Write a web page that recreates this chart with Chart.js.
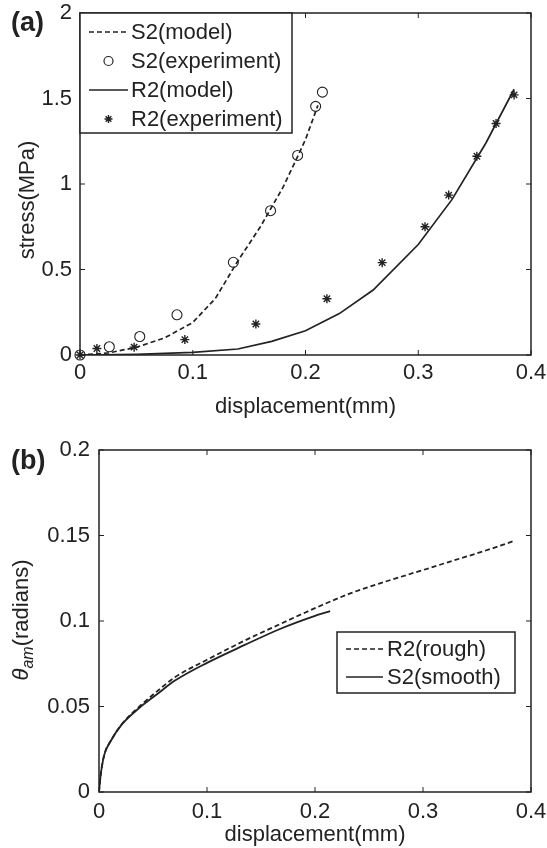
<!DOCTYPE html>
<html>
<head>
<meta charset="utf-8">
<script src="https://cdn.jsdelivr.net/npm/chart.js@4.4.1/dist/chart.umd.min.js"></script>
<style>
    body { margin: 0; background: #fff; width: 547px; height: 848px; position: relative; overflow: hidden; font-family: "Liberation Sans", Arial, sans-serif; color: #222; }
    .panel { position: absolute; left: 0; width: 547px; }
    #panelA { top: 0; height: 420px; }
    #panelB { top: 420px; height: 428px; }
    .tag { position: absolute; left: 11px; font-weight: bold; font-size: 27px; line-height: 1; }
    .ytitle { position: absolute; font-size: 22px; line-height: 1; white-space: nowrap; transform: translate(-50%, -50%) rotate(-90deg); }
    .ytitle sub { font-size: 16px; vertical-align: -5px; line-height: 0; }
</style>
</head>
<body>
<div class="panel" id="panelA"><canvas id="chartA" width="547" height="420"></canvas></div>
<div class="panel" id="panelB"><canvas id="chartB" width="547" height="428"></canvas></div>
<div class="tag" style="top:9px">(a)</div>
<div class="tag" style="top:447px">(b)</div>
<div class="ytitle" style="left:27px;top:200px">stress(MPa)</div>
<div class="ytitle" style="left:21px;top:620px"><i>θ</i><sub><i>am</i></sub>(radians)</div>

<script>
// ---- (a) stress vs displacement ----
const xTicksA = [0, 0.1, 0.2, 0.3, 0.4];
const yTicksA = [0, 0.5, 1, 1.5, 2];

const s2ModelX = [0, 0.025, 0.05, 0.075, 0.1, 0.12, 0.14, 0.16, 0.18, 0.193, 0.2, 0.211];
const s2ModelY = [0, 0.012, 0.045, 0.10, 0.19, 0.33, 0.55, 0.75, 0.98, 1.16, 1.26, 1.46];

const s2ExpX = [0, 0.026, 0.053, 0.086, 0.136, 0.169, 0.193, 0.209, 0.215];
const s2ExpY = [0, 0.048, 0.108, 0.235, 0.542, 0.844, 1.167, 1.454, 1.537];

const r2ModelX = [0, 0.05, 0.1, 0.14, 0.17, 0.2, 0.23, 0.26, 0.3, 0.33, 0.36, 0.385];
const r2ModelY = [0, 0.004, 0.015, 0.035, 0.08, 0.142, 0.242, 0.38, 0.646, 0.91, 1.24, 1.554];

const r2ExpX = [0, 0.015, 0.048, 0.093, 0.156, 0.219, 0.268, 0.306, 0.327, 0.352, 0.369, 0.385];
const r2ExpY = [0, 0.038, 0.046, 0.09, 0.181, 0.329, 0.54, 0.75, 0.935, 1.162, 1.354, 1.521];

// ---- (b) theta_am vs displacement ----
const xTicksB = [0, 0.1, 0.2, 0.3, 0.4];
const yTicksB = [0, 0.05, 0.1, 0.15, 0.2];

const roughX = [0, 0.0016, 0.005, 0.011, 0.021, 0.037, 0.054, 0.07, 0.1, 0.135, 0.167, 0.2, 0.232, 0.265, 0.3, 0.33, 0.362, 0.385];
const roughY = [0, 0.0102, 0.022, 0.030, 0.0396, 0.0498, 0.059, 0.067, 0.0773, 0.0886, 0.098, 0.1075, 0.116, 0.123, 0.1298, 0.1357, 0.142, 0.147];

const smoothX = [0, 0.0016, 0.005, 0.011, 0.021, 0.037, 0.054, 0.07, 0.1, 0.135, 0.167, 0.2, 0.214];
const smoothY = [0, 0.0102, 0.022, 0.030, 0.0394, 0.049, 0.0573, 0.065, 0.0755, 0.086, 0.0952, 0.103, 0.1058];

const INK = '#222';
const FONT = '"Liberation Sans", Arial, sans-serif';

function pts(xs, ys) {
    return xs.map((x, i) => ({ x: x, y: ys[i] }));
}

function drawStar(ctx, x, y, r) {
    ctx.beginPath();
    for (let k = 0; k < 4; k++) {
        const a = k * Math.PI / 4;
        ctx.moveTo(x - Math.cos(a) * r, y - Math.sin(a) * r);
        ctx.lineTo(x + Math.cos(a) * r, y + Math.sin(a) * r);
    }
    ctx.stroke();
}

// box round the plot with inward ticks on all four sides (matlab style)
const framePlugin = {
    id: 'frame',
    beforeDatasetsDraw(chart) {
        const { ctx, chartArea: a, scales } = chart;
        const tl = 5;
        ctx.save();
        ctx.strokeStyle = INK;
        ctx.lineWidth = 1.5;
        ctx.setLineDash([]);
        ctx.strokeRect(a.left, a.top, a.right - a.left, a.bottom - a.top);
        ctx.lineWidth = 1;
        ctx.beginPath();
        scales.x.ticks.forEach(t => {
            const px = scales.x.getPixelForValue(t.value);
            ctx.moveTo(px, a.bottom); ctx.lineTo(px, a.bottom - tl);
            ctx.moveTo(px, a.top); ctx.lineTo(px, a.top + tl);
        });
        scales.y.ticks.forEach(t => {
            const py = scales.y.getPixelForValue(t.value);
            ctx.moveTo(a.left, py); ctx.lineTo(a.left + tl, py);
            ctx.moveTo(a.right, py); ctx.lineTo(a.right - tl, py);
        });
        ctx.stroke();
        ctx.restore();
    }
};

// legend box drawn inside the plot area
const boxLegend = {
    id: 'boxLegend',
    afterDraw(chart, args, opts) {
        const { ctx } = chart;
        const bx = opts.left, by = opts.top;
        ctx.save();
        ctx.fillStyle = '#fff';
        ctx.fillRect(bx, by, opts.width, opts.height);
        ctx.strokeStyle = INK;
        ctx.lineWidth = 1.5;
        ctx.strokeRect(bx, by, opts.width, opts.height);
        chart.data.datasets.forEach((ds, i) => {
            const y = by + opts.firstRow + i * opts.rowGap;
            ctx.strokeStyle = INK;
            ctx.lineWidth = 1.6;
            if (ds.showLine) {
                ctx.setLineDash(ds.borderDash || []);
                ctx.beginPath();
                ctx.moveTo(bx + opts.lineFrom, y);
                ctx.lineTo(bx + opts.lineTo, y);
                ctx.stroke();
                ctx.setLineDash([]);
            } else if (ds.pointStyle === 'star') {
                ctx.lineWidth = 1.4;
                drawStar(ctx, bx + (opts.lineFrom + opts.lineTo) / 2, y, 4);
            } else {
                ctx.lineWidth = 1.2;
                ctx.beginPath();
                ctx.arc(bx + (opts.lineFrom + opts.lineTo) / 2, y, 4.5, 0, Math.PI * 2);
                ctx.stroke();
            }
            ctx.fillStyle = INK;
            ctx.font = '22px ' + FONT;
            ctx.textBaseline = 'middle';
            ctx.textAlign = 'left';
            ctx.fillText(ds.label, bx + opts.textX, y + 1);
        });
        ctx.restore();
    }
};

function axisX(ticks, title, tickPad, titlePad, height) {
    return {
        type: 'linear',
        min: ticks[0],
        max: ticks[ticks.length - 1],
        afterBuildTicks: s => { s.ticks = ticks.map(v => ({ value: v })); },
        afterFit: s => { s.height = height; s.paddingLeft = 0; s.paddingRight = 0; },
        grid: { display: false, drawTicks: false },
        border: { display: false },
        ticks: { color: INK, font: { size: 22, family: FONT }, padding: tickPad, autoSkip: false, maxRotation: 0, callback: v => String(v) },
        title: { display: true, text: title, color: INK, font: { size: 22, family: FONT }, padding: { top: titlePad, bottom: 0 } }
    };
}

function axisY(ticks, width, tickPad) {
    return {
        type: 'linear',
        min: ticks[0],
        max: ticks[ticks.length - 1],
        afterBuildTicks: s => { s.ticks = ticks.map(v => ({ value: v })); },
        afterFit: s => { s.width = width; s.paddingTop = 0; s.paddingBottom = 0; },
        grid: { display: false, drawTicks: false },
        border: { display: false },
        ticks: { color: INK, font: { size: 22, family: FONT }, padding: tickPad, autoSkip: false, callback: v => String(v) }
    };
}

const common = {
    responsive: false,
    animation: false,
    events: [],
    plugins: { legend: { display: false }, tooltip: { enabled: false } },
    elements: { line: { tension: 0 } }
};

new Chart(document.getElementById('chartA'), {
    type: 'scatter',
    data: {
        datasets: [
            { label: 'S2(model)', data: pts(s2ModelX, s2ModelY), showLine: true, borderColor: INK, borderWidth: 1.7, borderDash: [5, 3], pointRadius: 0 },
            { label: 'S2(experiment)', data: pts(s2ExpX, s2ExpY), showLine: false, pointStyle: 'circle', pointRadius: 5, borderColor: INK, backgroundColor: 'transparent', borderWidth: 1.1, clip: 8 },
            { label: 'R2(model)', data: pts(r2ModelX, r2ModelY), showLine: true, borderColor: INK, borderWidth: 1.7, pointRadius: 0 },
            { label: 'R2(experiment)', data: pts(r2ExpX, r2ExpY), showLine: false, pointStyle: 'star', pointRadius: 4.5, borderColor: INK, backgroundColor: INK, borderWidth: 1.4, clip: 8 }
        ]
    },
    options: {
        ...common,
        layout: { padding: { top: 13, right: 16, left: 0, bottom: 0 } },
        scales: {
            x: axisX(xTicksA, 'displacement(mm)', 5, 13, 65),
            y: axisY(yTicksA, 80, 8)
        },
        plugins: {
            ...common.plugins,
            boxLegend: { left: 80, top: 13, width: 212, height: 120, firstRow: 19, rowGap: 29, lineFrom: 9, lineTo: 48, textX: 51 }
        }
    },
    plugins: [framePlugin, boxLegend]
});

new Chart(document.getElementById('chartB'), {
    type: 'scatter',
    data: {
        datasets: [
            { label: 'R2(rough)', data: pts(roughX, roughY), showLine: true, borderColor: INK, borderWidth: 1.8, borderDash: [5, 3], pointRadius: 0, cubicInterpolationMode: 'monotone' },
            { label: 'S2(smooth)', data: pts(smoothX, smoothY), showLine: true, borderColor: INK, borderWidth: 1.8, pointRadius: 0, cubicInterpolationMode: 'monotone' }
        ]
    },
    options: {
        ...common,
        layout: { padding: { top: 30, right: 16, left: 0, bottom: 0 } },
        scales: {
            x: axisX(xTicksB, 'displacement(mm)', 7, 0, 56),
            y: axisY(yTicksB, 99, 9)
        },
        plugins: {
            ...common.plugins,
            boxLegend: { left: 337, top: 212, width: 178, height: 61, firstRow: 17, rowGap: 28, lineFrom: 9, lineTo: 46, textX: 50 }
        }
    },
    plugins: [framePlugin, boxLegend]
});
</script>
</body>
</html>
